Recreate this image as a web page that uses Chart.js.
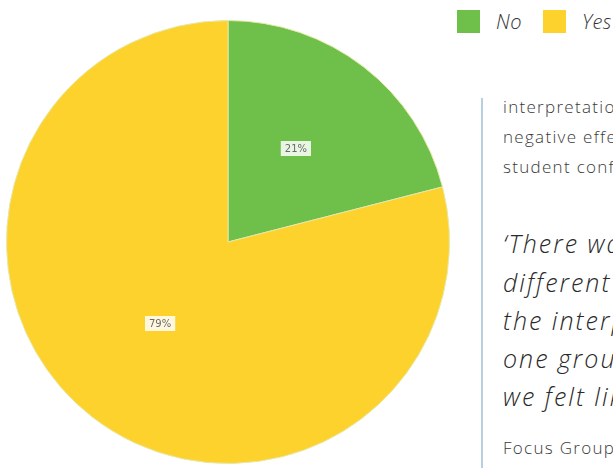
<!DOCTYPE html>
<html>
<head>
<meta charset="utf-8">
<script src="https://cdn.jsdelivr.net/npm/chart.js@4/dist/chart.umd.min.js"></script>
<style>
  html, body { margin:0; padding:0; width:613px; height:468px; overflow:hidden; background:#fff; font-family: "Open Sans", Lato, sans-serif; }
  #wrap { position:absolute; left:6px; top:19px; width:444px; height:446px; }
  #legend { position:absolute; left:457px; top:5px; white-space:nowrap; font-style:italic; font-weight:300; font-size:20px; color:#333; letter-spacing:0.5px; }
  #legend span.item { display:inline-block; margin-right:21px; vertical-align:middle; }
  #legend span.box { display:inline-block; width:23px; height:23px; vertical-align:middle; margin-right:16px; }
  #legend span.txt { vertical-align:middle; }
  #rule { position:absolute; left:481px; top:98px; width:1.5px; height:370px; background:#b7cfdf; }
  .body { position:absolute; left:503px; white-space:nowrap; font-weight:300; font-size:17px; color:#3a3a3a; letter-spacing:1.3px; }
  .quote { position:absolute; left:503px; white-space:nowrap; font-style:italic; font-weight:300; font-size:25px; color:#2a2a2a; letter-spacing:2px; }
</style>
</head>
<body>
<div id="wrap"><canvas id="c"></canvas></div>
<div id="legend"></div>
<div id="rule"></div>
<div class="body" style="top:95px">interpretation of</div>
<div class="body" style="top:125px">negative effect on</div>
<div class="body" style="top:155px">student confidence</div>
<div class="quote" style="top:226px">‘There was a</div>
<div class="quote" style="top:265px">different view on</div>
<div class="quote" style="top:303px">the interpretation,</div>
<div class="quote" style="top:341px">one group said</div>
<div class="quote" style="top:379px">we felt like</div>
<div class="body" style="top:436px">Focus Group</div>
<script>
const categories = ["No", "Yes"];
const values = [21, 79];
const valueLabels = ["21%", "79%"];
const colors = ["#6ec04a", "#fdd22c"];

// HTML legend built from data
const lg = document.getElementById('legend');
categories.forEach((c, i) => {
  const it = document.createElement('span'); it.className = 'item';
  const b = document.createElement('span'); b.className = 'box'; b.style.background = colors[i];
  const t = document.createElement('span'); t.className = 'txt'; t.textContent = c;
  it.appendChild(b); it.appendChild(t); lg.appendChild(it);
});

const labelPlugin = {
  id: 'sliceLabels',
  afterDatasetsDraw(chart) {
    const ctx = chart.ctx;
    const meta = chart.getDatasetMeta(0);
    meta.data.forEach((arc, i) => {
      const p = arc.tooltipPosition();
      ctx.save();
      ctx.font = '10px "DejaVu Sans", sans-serif';
      const txt = valueLabels[i];
      const w = ctx.measureText(txt).width + 8;
      const h = 15;
      ctx.fillStyle = 'rgba(255,255,255,0.85)';
      ctx.fillRect(p.x - w/2, p.y - h/2 - 6, w, h);
      ctx.fillStyle = '#6a6a6a';
      ctx.textAlign = 'center';
      ctx.textBaseline = 'middle';
      ctx.fillText(txt, p.x, p.y - 5.5);
      ctx.restore();
    });
  }
};

new Chart(document.getElementById('c'), {
  type: 'pie',
  data: {
    labels: categories,
    datasets: [{
      data: values,
      backgroundColor: colors,
      borderColor: '#e6e8a8',
      borderWidth: 1,
      hoverOffset: 0
    }]
  },
  options: {
    responsive: true,
    maintainAspectRatio: false,
    animation: false,
    layout: { padding: 0 },
    plugins: { legend: { display: false }, tooltip: { enabled: false } }
  },
  plugins: [labelPlugin]
});
</script>
</body>
</html>
